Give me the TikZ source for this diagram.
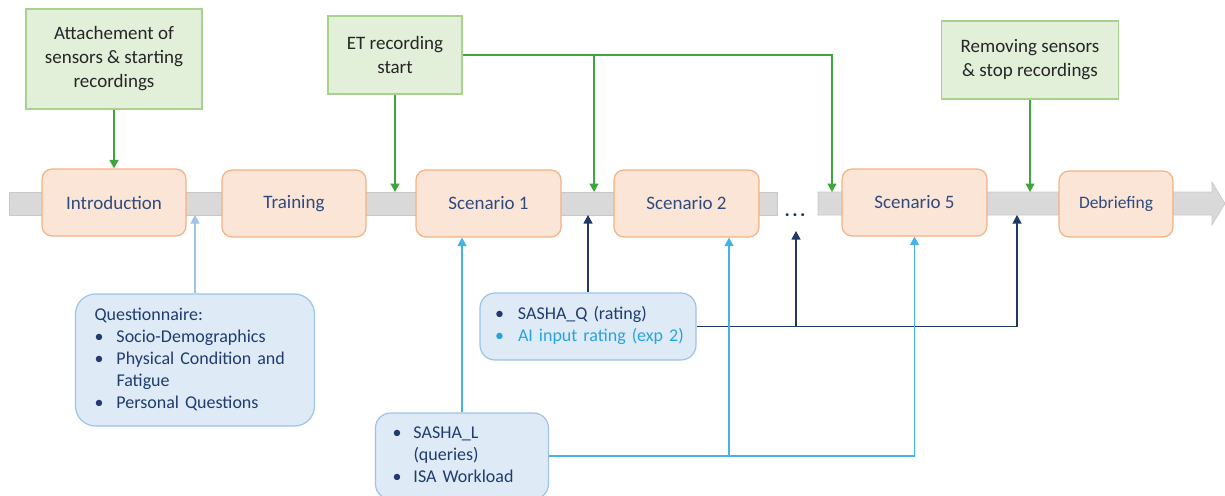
\documentclass[tikz,border=0pt]{standalone}
\usepackage{fontspec}
\setmainfont{Carlito}
\usetikzlibrary{arrows.meta}

\definecolor{barfill}{HTML}{D9D9D9}
\definecolor{barline}{HTML}{C8C8C8}
\definecolor{phasefill}{HTML}{FBE5D6}
\definecolor{phaseline}{HTML}{F4B183}
\definecolor{phasetext}{HTML}{2F4A7F}
\definecolor{eventfill}{HTML}{E2F0D9}
\definecolor{eventline}{HTML}{A9D18E}
\definecolor{eventtext}{HTML}{262626}
\definecolor{infofill}{HTML}{DEEBF7}
\definecolor{infoline}{HTML}{9DC3E6}
\definecolor{infotext}{HTML}{1F3B70}
\definecolor{greenarrow}{HTML}{3FA53F}
\definecolor{paleblue}{HTML}{9DC3E6}
\definecolor{navy}{HTML}{203864}
\definecolor{brightblue}{HTML}{45B3E7}
\definecolor{aitext}{HTML}{29A3DF}

\begin{document}
\begin{tikzpicture}[x=1pt,y=-1pt,
  phasebox/.style={draw=phaseline, fill=phasefill, line width=1.2pt,
    rounded corners=10pt, minimum height=67pt, inner sep=0pt,
    text=phasetext, font=\fontsize{19}{23}\selectfont},
  eventbox/.style={draw=eventline, fill=eventfill, line width=1.2pt,
    inner sep=0pt, align=center, text=eventtext,
    font=\fontsize{19}{24}\selectfont},
  infobox/.style={draw=infoline, fill=infofill, line width=1.2pt,
    inner ysep=0pt, align=left, text=infotext,
    font=\fontsize{18}{22}\selectfont},
  tip/.style={-{Triangle[width=9pt,length=8.5pt]}},
  greenlink/.style={tip, draw=greenarrow, line width=1.6pt},
  palelink/.style={tip, draw=paleblue, line width=1.6pt},
  navylink/.style={tip, draw=navy, line width=1.1pt},
  bluelink/.style={tip, draw=brightblue, line width=1.6pt},
]
\useasboundingbox (0,0) rectangle (1225,495);

% timeline band
\filldraw[fill=barfill, draw=barline, line width=0.6pt]
  (9,192) rectangle (777,215);
\filldraw[fill=barfill, draw=barline, line width=0.6pt]
  (818,192) -- (1212,192) -- (1212,182) -- (1225,203.5) -- (1212,225)
  -- (1212,215) -- (818,215) -- cycle;
\coordinate (bartop) at (0,192);
\coordinate (barbot) at (0,215);

% phases
\node[phasebox, minimum width=144pt] (intro) at (114,202.5) {Introduction};
\node[phasebox, minimum width=144pt] (train) at (294,203.5) {Training};
\node[phasebox, minimum width=145pt] (s1) at (488.5,203.5) {Scenario 1};
\node[phasebox, minimum width=145pt] (s2) at (686.5,203.5) {Scenario 2};
\node[phasebox, minimum width=145pt] (s5) at (914.5,202.5) {Scenario 5};
\node[phasebox, minimum width=114pt, minimum height=66pt,
  font=\fontsize{17.5}{21}\selectfont] (debrief) at (1116,204) {Debriefing};
\node[anchor=base, text=navy, font=\bfseries\fontsize{20}{23}\selectfont]
  (dots) at (795,216) {.\kern2.5pt.\kern2.5pt.};

% recording events
\node[eventbox, minimum width=176pt, minimum height=100pt] (attach) at (114,59)
  {Attachement of\\sensors \& starting\\recordings};
\node[eventbox, minimum width=134pt, minimum height=78pt] (et) at (395,55)
  {ET recording\\start};
\node[eventbox, minimum width=177pt, minimum height=78pt] (remove) at (1030,60)
  {Removing sensors\\\& stop recordings};

% questionnaires
\node[infobox, rounded corners=20pt, inner xsep=19pt, text width=201pt,
  minimum height=132pt] (quest) at (195,360) {%
  \begin{tabular}{@{}p{22pt}@{}l@{}}
  \multicolumn{2}{@{}l@{}}{Questionnaire:}\\
  \textbullet & Socio-Demographics\\
  \textbullet & Physical Condition and\\
              & Fatigue\\
  \textbullet & Personal Questions
  \end{tabular}};
\node[infobox, rounded corners=15pt, inner xsep=15pt, text width=186pt,
  minimum height=67pt] (sq) at (588,326.5) {%
  \begin{tabular}{@{}p{23pt}@{}l@{}}
  \textbullet & SASHA\_Q (rating)\\
  \textcolor{aitext}{\textbullet} & \textcolor{aitext}{AI input rating (exp 2)}
  \end{tabular}};
\node[infobox, rounded corners=15pt, inner xsep=17pt, text width=139pt,
  minimum height=86pt] (sl) at (462,456) {%
  \begin{tabular}{@{}p{21pt}@{}l@{}}
  \textbullet & SASHA\_L\\
              & (queries)\\
  \textbullet & ISA Workload
  \end{tabular}};

% event markers
\draw[greenlink] (attach.south) -- (intro.north);
\draw[greenlink] (et.south) -- (et.south |- bartop);
\coordinate (etfar) at (832,192);
\coordinate (etmid) at (594,55);
\draw[greenlink] (et.east) -| (etfar);
\draw[greenlink] (etmid) -- (etmid |- bartop);
\draw[greenlink] (remove.south) -- (remove.south |- bartop);

% questionnaire links
\draw[palelink] (quest.north) -- (quest.north |- barbot);

\coordinate (sqfar) at (1017,215);
\coordinate (sqdots) at (796,231);
\draw[navylink] (sq.north) -- (sq.north |- barbot);
\draw[navylink] (sq.east) -| (sqfar);
\draw[navylink] (sq.east -| sqdots) -- (sqdots);

\coordinate (slmid) at (729,456);
\draw[bluelink] (sl.north) -- (sl.north |- s1.south);
\draw[bluelink] (sl.east) -| (s5.south);
\draw[bluelink] (slmid) -- (slmid |- s2.south);
\end{tikzpicture}
\end{document}
